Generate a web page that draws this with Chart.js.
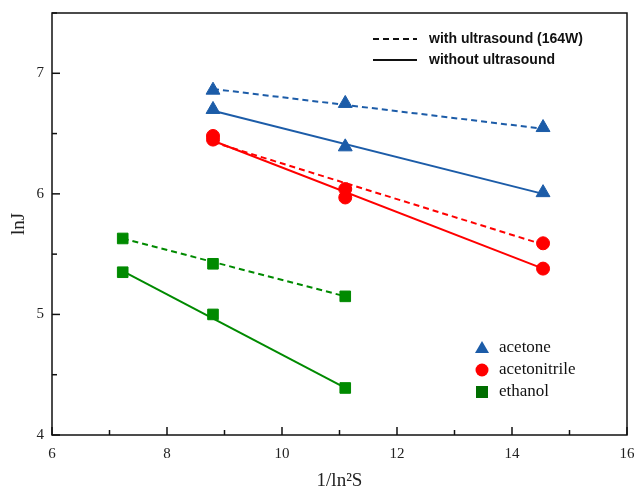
<!DOCTYPE html>
<html>
<head>
<meta charset="utf-8">
<script src="https://cdn.jsdelivr.net/npm/chart.js@4.4.0/dist/chart.umd.min.js"></script>
<style>
  html, body { margin: 0; padding: 0; background: #fff; }
  #wrap { width: 638px; height: 496px; }
</style>
</head>
<body>
<div id="wrap"><canvas id="chart" width="638" height="496"></canvas></div>
<script>
// Measured points
const xAceton = [8.8, 11.1, 14.54];
const acetoneWith = [6.86, 6.75, 6.55];
const acetoneWithout = [6.70, 6.39, 6.01];
const acetonitrileWith = [6.48, 6.04, 5.59];
const acetonitrileWithout = [6.45, 5.97, 5.38];

const xEthanol = [7.23, 8.8, 11.1];
const ethanolWith = [5.63, 5.42, 5.15];
const ethanolWithout = [5.35, 5.00, 4.39];

// Fitted line end points
const xAcetonFit = [8.8, 14.54];
const acetoneWithFit = [6.87, 6.54];
const acetoneWithoutFit = [6.69, 6.00];
const acetonitrileWithFit = [6.43, 5.58];
const acetonitrileWithoutFit = [6.44, 5.38];
const xEthanolFit = [7.23, 11.1];
const ethanolWithFit = [5.63, 5.15];
const ethanolWithoutFit = [5.36, 4.39];

const xTicks = [6, 8, 10, 12, 14, 16];
const yTicks = [4, 5, 6, 7];

const BLUE = '#1c5ca8';
const RED = '#ff0000';
const GREEN = '#008a00';
const SERIF = '"Liberation Serif", "Times New Roman", serif';

function pts(xs, ys) {
  return xs.map((x, i) => ({ x, y: ys[i] }));
}

function fitLine(xs, ys, color, dashed) {
  return {
    data: pts(xs, ys),
    showLine: true,
    borderColor: color,
    borderWidth: 2,
    borderDash: dashed ? [6, 4] : [],
    pointRadius: 0,
    order: 2
  };
}

function markers(xs, ys, color, style, radius) {
  return {
    data: pts(xs, ys),
    showLine: false,
    pointStyle: style,
    pointRadius: radius,
    backgroundColor: color,
    borderColor: color,
    borderWidth: 1,
    order: 1
  };
}

// Frame, inward ticks and the two legends
const decorations = {
  id: 'decorations',
  afterDraw(chart) {
    const { ctx, chartArea: a, scales: { x, y } } = chart;
    ctx.save();
    ctx.strokeStyle = '#111';
    ctx.lineWidth = 1.5;
    ctx.strokeRect(a.left, a.top, a.right - a.left, a.bottom - a.top);

    for (let v = 6; v <= 16; v += 1) {
      const px = x.getPixelForValue(v);
      const len = v % 2 === 0 ? 8 : 5;
      ctx.beginPath();
      ctx.moveTo(px, a.bottom);
      ctx.lineTo(px, a.bottom - len);
      ctx.stroke();
    }
    for (let v = 4; v <= 7.5; v += 0.5) {
      const py = y.getPixelForValue(v);
      const len = Number.isInteger(v) ? 8 : 5;
      ctx.beginPath();
      ctx.moveTo(a.left, py);
      ctx.lineTo(a.left + len, py);
      ctx.stroke();
    }

    // line-style legend
    const lx = a.left + 321;
    ctx.lineWidth = 2;
    ctx.strokeStyle = '#111';
    ctx.setLineDash([6, 4]);
    ctx.beginPath();
    ctx.moveTo(lx, a.top + 26);
    ctx.lineTo(lx + 44, a.top + 26);
    ctx.stroke();
    ctx.setLineDash([]);
    ctx.beginPath();
    ctx.moveTo(lx, a.top + 47);
    ctx.lineTo(lx + 44, a.top + 47);
    ctx.stroke();
    ctx.fillStyle = '#111';
    ctx.font = 'bold 14px "Liberation Sans", Arial, sans-serif';
    ctx.textBaseline = 'middle';
    ctx.fillText('with ultrasound (164W)', lx + 56, a.top + 26);
    ctx.fillText('without ultrasound', lx + 56, a.top + 47);

    // marker legend
    const mx = a.left + 430;
    const rows = [
      { label: 'acetone', color: BLUE, shape: 'triangle', y: a.top + 335 },
      { label: 'acetonitrile', color: RED, shape: 'circle', y: a.top + 357 },
      { label: 'ethanol', color: '#006e00', shape: 'square', y: a.top + 379 }
    ];
    ctx.font = '17px ' + SERIF;
    rows.forEach(r => {
      ctx.fillStyle = r.color;
      ctx.beginPath();
      if (r.shape === 'triangle') {
        ctx.moveTo(mx, r.y - 7);
        ctx.lineTo(mx + 7, r.y + 5);
        ctx.lineTo(mx - 7, r.y + 5);
        ctx.closePath();
      } else if (r.shape === 'circle') {
        ctx.arc(mx, r.y, 6.5, 0, Math.PI * 2);
      } else {
        ctx.rect(mx - 6, r.y - 6, 12, 12);
      }
      ctx.fill();
      ctx.fillStyle = '#111';
      ctx.fillText(r.label, mx + 17, r.y);
    });
    ctx.restore();
  }
};

new Chart(document.getElementById('chart'), {
  type: 'scatter',
  data: {
    datasets: [
      fitLine(xAcetonFit, acetoneWithFit, BLUE, true),
      fitLine(xAcetonFit, acetoneWithoutFit, BLUE, false),
      fitLine(xAcetonFit, acetonitrileWithFit, RED, true),
      fitLine(xAcetonFit, acetonitrileWithoutFit, RED, false),
      fitLine(xEthanolFit, ethanolWithFit, GREEN, true),
      fitLine(xEthanolFit, ethanolWithoutFit, GREEN, false),
      markers(xAceton, acetoneWith, BLUE, 'triangle', 8),
      markers(xAceton, acetoneWithout, BLUE, 'triangle', 8),
      markers(xAceton, acetonitrileWith, RED, 'circle', 6.5),
      markers(xAceton, acetonitrileWithout, RED, 'circle', 6.5),
      markers(xEthanol, ethanolWith, GREEN, 'rect', 7.5),
      markers(xEthanol, ethanolWithout, GREEN, 'rect', 7.5)
    ]
  },
  options: {
    responsive: false,
    animation: false,
    layout: { padding: { top: 13, right: 11, left: 0, bottom: 0 } },
    plugins: {
      legend: { display: false },
      tooltip: { enabled: false }
    },
    scales: {
      x: {
        type: 'linear',
        min: 6,
        max: 16,
        afterBuildTicks: s => { s.ticks = xTicks.map(v => ({ value: v })); },
        afterFit: s => { s.height = 61; s.paddingLeft = 0; s.paddingRight = 0; },
        grid: { display: false, drawTicks: false },
        border: { display: false },
        ticks: {
          padding: 10,
          color: '#222',
          font: { family: SERIF, size: 15 }
        },
        title: {
          display: true,
          text: '1/ln²S',
          color: '#222',
          padding: { top: 9 },
          font: { family: SERIF, size: 19 }
        }
      },
      y: {
        type: 'linear',
        min: 4,
        max: 7.5,
        afterBuildTicks: s => { s.ticks = yTicks.map(v => ({ value: v })); },
        afterFit: s => { s.width = 52; s.paddingTop = 0; s.paddingBottom = 0; },
        grid: { display: false, drawTicks: false },
        border: { display: false },
        ticks: {
          padding: 8,
          color: '#222',
          font: { family: SERIF, size: 15 }
        },
        title: {
          display: true,
          text: 'lnJ',
          color: '#222',
          padding: { top: 8, bottom: 4 },
          font: { family: SERIF, size: 19 }
        }
      }
    }
  },
  plugins: [decorations]
});
</script>
</body>
</html>
